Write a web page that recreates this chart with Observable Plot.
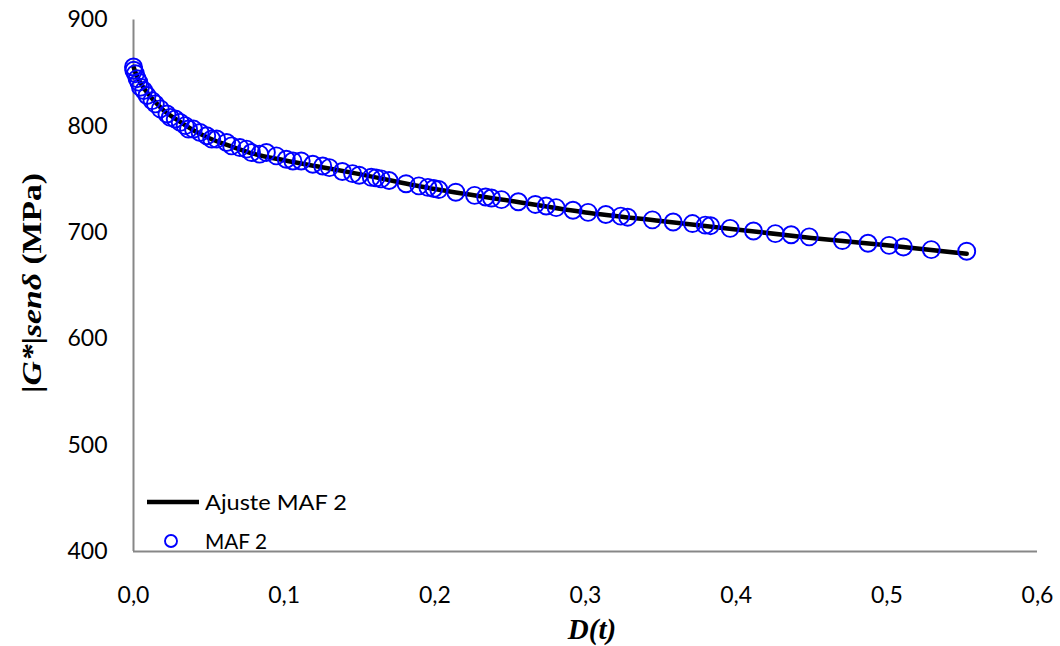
<!DOCTYPE html>
<html><head><meta charset="utf-8">
<script src="https://cdn.jsdelivr.net/npm/d3@7"></script>
<script src="https://cdn.jsdelivr.net/npm/@observablehq/plot@0.6"></script>
<style>
html,body{margin:0;padding:0;background:#fff;}
#chart{width:1060px;height:646px;}
</style></head><body><div id="chart"></div>
<script>
// Tick values
const xTicks = [0, 0.1, 0.2, 0.3, 0.4, 0.5, 0.6];
const yTicks = [400, 500, 600, 700, 800, 900];

// Measured series "MAF 2"
const mafX = [0,0.0002,0.0013,0.0024,0.0035,0.0046,0.0068,0.009,0.0123,0.0145,0.0178,0.0222,0.0244,0.0277,0.031,0.0343,0.0365,0.0398,0.0442,0.0486,0.0519,0.0552,0.0618,0.0651,0.0706,0.075,0.0783,0.0838,0.0882,0.0948,0.1014,0.1058,0.1113,0.119,0.1256,0.13,0.1386,0.1454,0.1498,0.1578,0.161,0.1644,0.1696,0.1809,0.1894,0.1954,0.1993,0.2026,0.2139,0.2264,0.2337,0.2376,0.2442,0.2554,0.2667,0.2739,0.2805,0.2917,0.3017,0.3135,0.3234,0.328,0.3444,0.3582,0.371,0.3795,0.383,0.396,0.4115,0.426,0.4365,0.4485,0.4705,0.4875,0.5015,0.511,0.5295,0.553];
const mafY = [855.8,852.7,849.5,844.8,841.6,836.8,833.7,829,824.2,821.1,816.4,811.6,808.4,806.9,803.7,800.6,797.4,797.4,794.2,791.1,788,788,784.8,781.6,780,778.5,775.3,773.8,775.3,772.2,769,767.4,767.4,764.3,762.7,761.1,757.5,755.5,754,752,751.5,750.5,749,746,744,742.5,741.5,740.5,738,735,733.5,732.5,731,729,726.5,725,723.5,721,719,717,715.5,714.5,712,710,708.5,707,706.5,704,701.5,699,698,696,692.5,690,688,686.5,684,682.5];

// Fitted curve "Ajuste MAF 2"
const fitX = [0,0.002,0.005,0.01,0.015,0.02,0.03,0.04,0.05,0.065,0.08,0.1,0.125,0.15,0.2,0.25,0.3,0.35,0.4,0.45,0.5,0.553];
const fitY = [856,848,840,830,822,815,805,796,789,781,774,768,761.5,755,741,730,719,711,703,695,688,680];

const seriesNames = ["Ajuste MAF 2", "MAF 2"];
const axisLabelX = "D(t)";

const maf = mafX.map((x, i) => ({x, y: mafY[i]}));
const fit = fitX.map((x, i) => ({x, y: fitY[i]}));
const fmt = d => d.toFixed(1).replace(".", ",");

const M = {left: 133, right: 23, top: 19.5, bottom: 95};

const plot = Plot.plot({
  width: 1060,
  height: 646,
  marginLeft: M.left,
  marginRight: M.right,
  marginTop: M.top,
  marginBottom: M.bottom,
  style: {fontFamily: "Lato, sans-serif", fontSize: "23px", color: "#000", background: "#fff"},
  x: {domain: [0, 0.6]},
  y: {domain: [400, 900]},
  marks: [
    Plot.axisX({ticks: xTicks, tickSize: 0, tickPadding: 35, tickFormat: fmt, label: null, fontSize: 23}),
    Plot.axisY({ticks: yTicks, tickSize: 0, tickPadding: 26, label: null, fontSize: 23}),
    Plot.ruleX([xTicks[0]], {y1: yTicks[0], y2: yTicks[yTicks.length-1], stroke: "#878787", strokeWidth: 2}),
    Plot.ruleY([yTicks[0]], {x1: xTicks[0], x2: xTicks[xTicks.length-1], stroke: "#878787", strokeWidth: 2}),
    Plot.line(fit, {x: "x", y: "y", stroke: "#000", strokeWidth: 4.5, curve: "monotone-x"}),
    Plot.dot(maf, {x: "x", y: "y", r: 8.5, stroke: "#0000ff", strokeWidth: 1.9, fill: "none"})
  ]
});

document.getElementById("chart").appendChild(plot);

const svg = d3.select(plot);
// Y axis title
const yt = svg.append("text")
  .attr("transform", "translate(41,283) rotate(-90)")
  .attr("text-anchor", "middle")
  .attr("font-family", "'Liberation Serif', 'Times New Roman', serif")
  .attr("font-weight", "bold")
  .attr("font-size", 28)
  .attr("fill", "#000")
  .attr("textLength", 220)
  .attr("lengthAdjust", "spacingAndGlyphs");
yt.append("tspan").text("|");
yt.append("tspan").attr("font-style", "italic").text("G*");
yt.append("tspan").text("|");
yt.append("tspan").attr("font-style", "italic").text("senδ");
yt.append("tspan").text(" (MPa)");

// X axis title
svg.append("text")
  .attr("x", 592).attr("y", 639)
  .attr("text-anchor", "middle")
  .attr("font-family", "'Liberation Serif', 'Times New Roman', serif")
  .attr("font-weight", "bold")
  .attr("font-style", "italic")
  .attr("font-size", 29)
  .attr("fill", "#000")
  .text(axisLabelX);

// Legend
const lg = svg.append("g").attr("text-anchor", "start").style("font-family", "Lato, sans-serif").style("font-size", "21px").attr("fill", "#000");
lg.append("line").attr("x1", 147).attr("x2", 199).attr("y1", 502).attr("y2", 502).attr("stroke", "#000").attr("stroke-width", 4.5);
lg.append("text").attr("x", 205).attr("y", 502).attr("dy", "0.36em").attr("textLength", 142).attr("lengthAdjust", "spacingAndGlyphs").text(seriesNames[0]);
lg.append("circle").attr("cx", 171).attr("cy", 541).attr("r", 6).attr("fill", "none").attr("stroke", "#0000ff").attr("stroke-width", 1.9);
lg.append("text").attr("x", 205).attr("y", 541).attr("dy", "0.36em").attr("textLength", 62).attr("lengthAdjust", "spacingAndGlyphs").text(seriesNames[1]);
</script>
</body></html>
